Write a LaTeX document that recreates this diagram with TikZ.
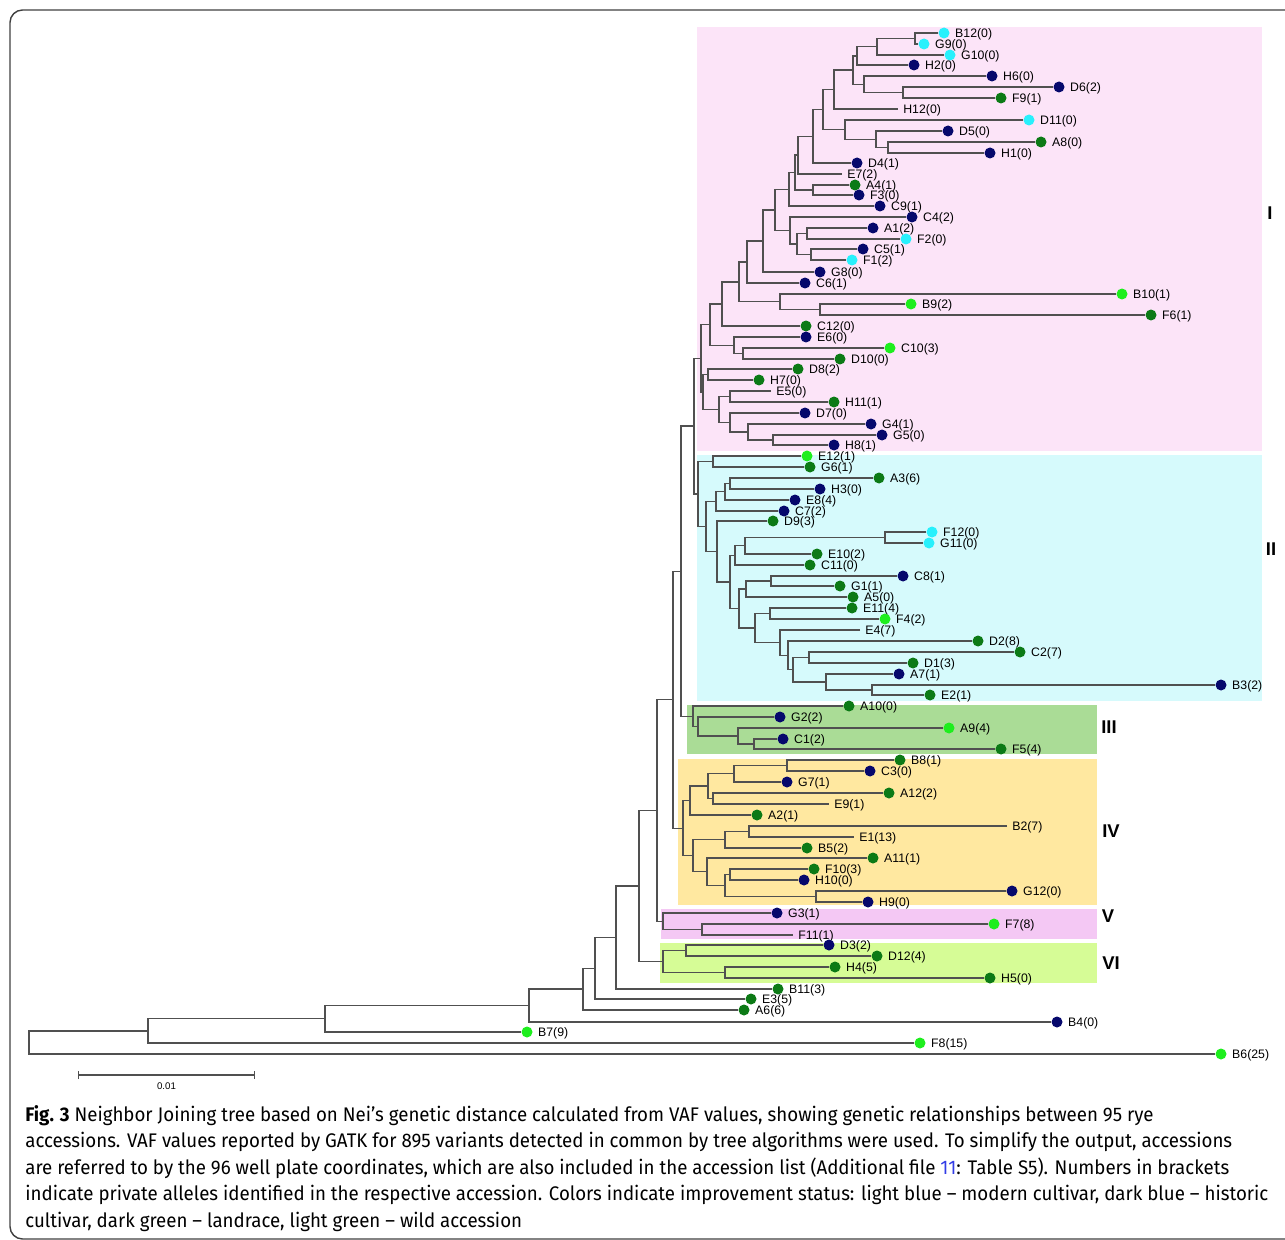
\documentclass[tikz,border=0pt]{standalone}
\usepackage{fontspec}
\setmainfont{Liberation Sans}
\newfontfamily\capfont{Fira Sans}[FakeStretch=0.95]
\usetikzlibrary{positioning, calc, arrows.meta}
% improvement status
\definecolor{mblue}{RGB}{40, 240, 252}
\definecolor{hblue}{RGB}{6, 8, 108}
\definecolor{dgreen}{RGB}{12, 122, 22}
\definecolor{wgreen}{RGB}{30, 238, 30}
% clade backgrounds
\definecolor{cladeI}{RGB}{252, 228, 248}
\definecolor{cladeII}{RGB}{214, 250, 252}
\definecolor{cladeIII}{RGB}{170, 220, 150}
\definecolor{cladeIV}{RGB}{255, 232, 160}
\definecolor{cladeV}{RGB}{244, 200, 244}
\definecolor{cladeVI}{RGB}{214, 252, 150}
\definecolor{treeGray}{RGB}{80, 80, 80}
\definecolor{linkBlue}{RGB}{50, 60, 230}
\tikzset{
    % Tree Styles
    branch/.style={draw=treeGray, line width=0.75pt},
    leafdot/.style={circle, inner sep=0pt, minimum size=0.22cm, draw=none},
    leaflab/.style={inner sep=0pt, yshift=-0.035cm, font=\fontsize{7}{8}\selectfont},
    % Labels & Frame
    cladelab/.style={inner sep=0pt, font=\bfseries\fontsize{10.5}{12}\selectfont},
    capline/.style={anchor=base west, inner sep=0pt, font=\capfont\fontsize{11.2}{13}\selectfont},
    scalebar/.style={{Bar[width=0.16cm]}-{Bar[width=0.16cm]}, draw=treeGray, line width=0.6pt},
    scalelab/.style={inner sep=0pt, font=\fontsize{5.5}{6}\selectfont},
    figframe/.style={draw=black!75, line width=0.8pt, rounded corners=0.25cm}
}
% leaf with a status dot: name, x, y, colour, label
\newcommand\tdot[5]{%
    \node[leafdot, fill=#4] (#1) at (#2,#3) {};
    \node[leaflab, right=0.1cm of #1] (l#1) {#5};}
% leaf without dot: name, x, y, label
\newcommand\ttip[4]{%
    \coordinate (#1) at (#2,#3);
    \node[leaflab, right=0.1cm of #1] (l#1) {#4};}
% internal node: name, x, upper child, lower child
\newcommand\tjoin[4]{%
    \coordinate (#1m) at ($(#3)!0.5!(#4)$);
    \coordinate (#1x) at (#2,0);
    \coordinate (#1) at (#1m -| #1x);
    \draw[branch] (#3) -| (#1) |- (#4);}

\begin{document}
\begin{tikzpicture}[x=0.02cm, y=-0.02cm]
    \useasboundingbox (0,0) rectangle (1285,1240);
    \clip (0,0) rectangle (1285,1240);

    % --- Clade Backgrounds ---
    \fill[cladeI] (697,27) rectangle (1262,451);
    \fill[cladeII] (697,455) rectangle (1262,701);
    \fill[cladeIII] (687,705) rectangle (1097,754);
    \fill[cladeIV] (678,759) rectangle (1097,905);
    \fill[cladeV] (661,909) rectangle (1097,939);
    \fill[cladeVI] (660,943) rectangle (1097,983);

    \node[cladelab] (labI) at (1270,213) {I};
    \node[cladelab] (labII) at (1271,549) {II};
    \node[cladelab] (labIII) at (1109,727) {III};
    \node[cladelab] (labIV) at (1111,831) {IV};
    \node[cladelab] (labV) at (1108,916) {V};
    \node[cladelab] (labVI) at (1111,963) {VI};

    % --- Leaves: Clade I ---
    \tdot{B12}{944}{33}{mblue}{B12(0)}
    \tdot{G9}{924}{44}{mblue}{G9(0)}
    \tdot{G10}{950}{55}{mblue}{G10(0)}
    \tdot{H2}{914}{65}{hblue}{H2(0)}
    \tdot{H6}{992}{76}{hblue}{H6(0)}
    \tdot{D6}{1059}{87}{hblue}{D6(2)}
    \tdot{F9}{1001}{98}{dgreen}{F9(1)}
    \ttip{H12}{898}{109}{H12(0)}
    \tdot{D11}{1029}{120}{mblue}{D11(0)}
    \tdot{D5}{948}{131}{hblue}{D5(0)}
    \tdot{A8}{1041}{142}{dgreen}{A8(0)}
    \tdot{H1}{990}{153}{hblue}{H1(0)}
    \tdot{D4}{857}{163}{hblue}{D4(1)}
    \ttip{E7}{842}{174}{E7(2)}
    \tdot{A4}{855}{185}{dgreen}{A4(1)}
    \tdot{F3}{859}{195}{hblue}{F3(0)}
    \tdot{C9}{880}{206}{hblue}{C9(1)}
    \tdot{C4}{912}{217}{hblue}{C4(2)}
    \tdot{A1}{873}{228}{hblue}{A1(2)}
    \tdot{F2}{906}{239}{mblue}{F2(0)}
    \tdot{C5}{863}{249}{hblue}{C5(1)}
    \tdot{F1}{852}{260}{mblue}{F1(2)}
    \tdot{G8}{820}{272}{hblue}{G8(0)}
    \tdot{C6}{805}{283}{hblue}{C6(1)}
    \tdot{B10}{1122}{294}{wgreen}{B10(1)}
    \tdot{B9}{911}{304}{wgreen}{B9(2)}
    \tdot{F6}{1151}{315}{dgreen}{F6(1)}
    \tdot{C12}{806}{326}{dgreen}{C12(0)}
    \tdot{E6}{806}{337}{hblue}{E6(0)}
    \tdot{C10}{890}{348}{wgreen}{C10(3)}
    \tdot{D10}{840}{359}{dgreen}{D10(0)}
    \tdot{D8}{798}{369}{dgreen}{D8(2)}
    \tdot{H7}{759}{380}{dgreen}{H7(0)}
    \ttip{E5}{771}{391}{E5(0)}
    \tdot{H11}{834}{402}{dgreen}{H11(1)}
    \tdot{D7}{805}{413}{hblue}{D7(0)}
    \tdot{G4}{871}{424}{hblue}{G4(1)}
    \tdot{G5}{882}{435}{hblue}{G5(0)}
    \tdot{H8}{834}{445}{hblue}{H8(1)}

    % --- Leaves: Clade II ---
    \tdot{E12}{807}{456}{wgreen}{E12(1)}
    \tdot{G6}{810}{467}{dgreen}{G6(1)}
    \tdot{A3}{879}{478}{dgreen}{A3(6)}
    \tdot{H3}{820}{489}{hblue}{H3(0)}
    \tdot{E8}{795}{500}{hblue}{E8(4)}
    \tdot{C7}{784}{511}{hblue}{C7(2)}
    \tdot{D9}{773}{521}{dgreen}{D9(3)}
    \tdot{F12}{932}{532}{mblue}{F12(0)}
    \tdot{G11}{929}{543}{mblue}{G11(0)}
    \tdot{E10}{817}{554}{dgreen}{E10(2)}
    \tdot{C11}{810}{565}{dgreen}{C11(0)}
    \tdot{C8}{903}{576}{hblue}{C8(1)}
    \tdot{G1}{840}{586}{dgreen}{G1(1)}
    \tdot{A5}{853}{597}{dgreen}{A5(0)}
    \tdot{E11}{852}{608}{dgreen}{E11(4)}
    \tdot{F4}{885}{619}{wgreen}{F4(2)}
    \ttip{E4}{860}{630}{E4(7)}
    \tdot{D2}{978}{641}{dgreen}{D2(8)}
    \tdot{C2}{1020}{652}{dgreen}{C2(7)}
    \tdot{D1}{913}{663}{dgreen}{D1(3)}
    \tdot{A7}{899}{674}{hblue}{A7(1)}
    \tdot{B3}{1221}{685}{hblue}{B3(2)}
    \tdot{E2}{930}{695}{dgreen}{E2(1)}

    % --- Leaves: Clades III to VI ---
    \tdot{A10}{849}{706}{dgreen}{A10(0)}
    \tdot{G2}{780}{717}{hblue}{G2(2)}
    \tdot{A9}{949}{728}{wgreen}{A9(4)}
    \tdot{C1}{783}{739}{hblue}{C1(2)}
    \tdot{F5}{1001}{749}{dgreen}{F5(4)}
    \tdot{B8}{900}{760}{dgreen}{B8(1)}
    \tdot{C3}{870}{771}{hblue}{C3(0)}
    \tdot{G7}{787}{782}{hblue}{G7(1)}
    \tdot{A12}{889}{793}{dgreen}{A12(2)}
    \ttip{E9}{829}{804}{E9(1)}
    \tdot{A2}{757}{815}{dgreen}{A2(1)}
    \ttip{B2}{1007}{826}{B2(7)}
    \ttip{E1}{854}{837}{E1(13)}
    \tdot{B5}{807}{848}{dgreen}{B5(2)}
    \tdot{A11}{873}{858}{dgreen}{A11(1)}
    \tdot{F10}{814}{869}{dgreen}{F10(3)}
    \tdot{H10}{804}{880}{hblue}{H10(0)}
    \tdot{G12}{1012}{891}{hblue}{G12(0)}
    \tdot{H9}{868}{902}{hblue}{H9(0)}
    \tdot{G3}{777}{913}{hblue}{G3(1)}
    \tdot{F7}{994}{924}{wgreen}{F7(8)}
    \ttip{F11}{793}{935}{F11(1)}
    \tdot{D3}{829}{945}{hblue}{D3(2)}
    \tdot{D12}{877}{956}{dgreen}{D12(4)}
    \tdot{H4}{835}{967}{dgreen}{H4(5)}
    \tdot{H5}{990}{978}{dgreen}{H5(0)}

    % --- Leaves: Outgroups ---
    \tdot{B11}{778}{989}{dgreen}{B11(3)}
    \tdot{E3}{751}{999}{dgreen}{E3(5)}
    \tdot{A6}{744}{1010}{dgreen}{A6(6)}
    \tdot{B4}{1057}{1022}{hblue}{B4(0)}
    \tdot{B7}{527}{1032}{wgreen}{B7(9)}
    \tdot{F8}{920}{1043}{wgreen}{F8(15)}
    \tdot{B6}{1221}{1054}{wgreen}{B6(25)}

    % --- Branches: Clade I ---
    \tjoin{cI1}{915}{B12}{G9}
    \tjoin{cI2}{877}{cI1}{G10}
    \tjoin{cI3}{857}{cI2}{H2}
    \tjoin{cI4}{903}{D6}{F9}
    \tjoin{cI5}{864}{H6}{cI4}
    \tjoin{cI6}{853}{cI3}{cI5}
    \tjoin{cI7}{834}{cI6}{H12}
    \tjoin{cI8}{888}{A8}{H1}
    \tjoin{cI9}{876}{D5}{cI8}
    \tjoin{cI10}{845}{D11}{cI9}
    \tjoin{cI11}{823}{cI7}{cI10}
    \tjoin{cI12}{813}{cI11}{D4}
    \tjoin{cI13}{798}{cI12}{E7}
    \tjoin{cI14}{813}{A4}{F3}
    \tjoin{cI15}{795}{cI13}{cI14}
    \tjoin{cI16}{789}{cI15}{C9}
    \tjoin{cI17}{807}{A1}{F2}
    \tjoin{cI18}{811}{C5}{F1}
    \tjoin{cI19}{797}{cI17}{cI18}
    \tjoin{cI20}{790}{C4}{cI19}
    \tjoin{cI21}{775}{cI16}{cI20}
    \tjoin{cI22}{763}{cI21}{G8}
    \tjoin{cI23}{747}{cI22}{C6}
    \tjoin{cI24}{820}{B9}{F6}
    \tjoin{cI25}{780}{B10}{cI24}
    \tjoin{cI26}{739}{cI23}{cI25}
    \tjoin{cI27}{722}{cI26}{C12}
    \tjoin{cI28}{743}{C10}{D10}
    \tjoin{cI29}{734}{E6}{cI28}
    \tjoin{cI30}{710}{cI27}{cI29}
    \tjoin{cI31}{708}{D8}{H7}
    \tjoin{cI32}{730}{E5}{H11}
    \tjoin{cI33}{773}{G5}{H8}
    \tjoin{cI34}{748}{G4}{cI33}
    \tjoin{cI35}{730}{D7}{cI34}
    \tjoin{cI36}{719}{cI32}{cI35}
    \tjoin{cI37}{703}{cI31}{cI36}
    \tjoin{cI38}{701}{cI30}{cI37}

    % --- Branches: Clade II ---
    \tjoin{cII1}{713}{E12}{G6}
    \tjoin{cII2}{730}{A3}{H3}
    \tjoin{cII3}{725}{cII2}{E8}
    \tjoin{cII4}{716}{cII3}{C7}
    \tjoin{cII5}{885}{F12}{G11}
    \tjoin{cII6}{745}{cII5}{E10}
    \tjoin{cII7}{735}{cII6}{C11}
    \tjoin{cII8}{771}{C8}{G1}
    \tjoin{cII9}{746}{cII8}{A5}
    \tjoin{cII10}{770}{E11}{F4}
    \tjoin{cII11}{872}{B3}{E2}
    \tjoin{cII12}{826}{A7}{cII11}
    \tjoin{cII13}{809}{C2}{D1}
    \tjoin{cII14}{793}{cII13}{cII12}
    \tjoin{cII15}{788}{D2}{cII14}
    \tjoin{cII16}{780}{E4}{cII15}
    \tjoin{cII17}{755}{cII10}{cII16}
    \tjoin{cII18}{739}{cII9}{cII17}
    \tjoin{cII19}{730}{cII7}{cII18}
    \tjoin{cII20}{717}{D9}{cII19}
    \tjoin{cII21}{706}{cII4}{cII20}
    \tjoin{cII22}{698}{cII1}{cII21}

    % --- Branches: Clades III to VI ---
    \tjoin{cIII1}{754}{C1}{F5}
    \tjoin{cIII2}{738}{A9}{cIII1}
    \tjoin{cIII3}{698}{G2}{cIII2}
    \tjoin{cIII4}{693}{A10}{cIII3}
    \tjoin{cIV1}{787}{B8}{C3}
    \tjoin{cIV2}{734}{cIV1}{G7}
    \tjoin{cIV3}{713}{A12}{E9}
    \tjoin{cIV4}{708}{cIV2}{cIV3}
    \tjoin{cIV5}{690}{cIV4}{A2}
    \tjoin{cIV6}{749}{B2}{E1}
    \tjoin{cIV7}{725}{cIV6}{B5}
    \tjoin{cIV8}{730}{F10}{H10}
    \tjoin{cIV9}{816}{G12}{H9}
    \tjoin{cIV10}{725}{cIV8}{cIV9}
    \tjoin{cIV11}{707}{A11}{cIV10}
    \tjoin{cIV12}{693}{cIV7}{cIV11}
    \tjoin{cIV13}{683}{cIV5}{cIV12}
    \tjoin{cV1}{702}{F7}{F11}
    \tjoin{cV2}{663}{G3}{cV1}
    \tjoin{cVI1}{686}{D3}{D12}
    \tjoin{cVI2}{725}{H4}{H5}
    \tjoin{cVI3}{663}{cVI1}{cVI2}

    % --- Backbone ---
    \tjoin{bb1}{694}{cI38}{cII22}
    \tjoin{bb2}{681}{bb1}{cIII4}
    \tjoin{bb3}{673}{bb2}{cIV13}
    \tjoin{bb4}{657}{bb3}{cV2}
    \tjoin{bb5}{639}{bb4}{cVI3}
    \tjoin{bb6}{616}{bb5}{B11}
    \tjoin{bb7}{595}{bb6}{E3}
    \tjoin{bb8}{583}{bb7}{A6}
    \tjoin{bb9}{529}{bb8}{B4}
    \tjoin{bb10}{325}{bb9}{B7}
    \tjoin{bb11}{148}{bb10}{F8}
    \tjoin{bb12}{29}{bb11}{B6}

    % --- Scale Bar ---
    \coordinate (sb0) at (78,1075);
    \coordinate (sb1) at (255,1075);
    \draw[scalebar] (sb0) -- (sb1);
    \node[scalelab] (sblab) at ($(sb0)!0.5!(sb1)+(0,11)$) {0.01};

    % --- Caption ---
    \node[capline] (cap1) at (25,1121) {\textbf{Fig. 3} Neighbor Joining tree based on Nei’s genetic distance calculated from VAF values, showing genetic relationships between 95 rye};
    \node[capline] (cap2) at (25,1147.5) {accessions. VAF values reported by GATK for 895 variants detected in common by tree algorithms were used. To simplify the output, accessions};
    \node[capline] (cap3) at (25,1174) {are referred to by the 96 well plate coordinates, which are also included in the accession list (Additional file \textcolor{linkBlue}{11}: Table S5). Numbers in brackets};
    \node[capline] (cap4) at (25,1200.5) {indicate private alleles identified in the respective accession. Colors indicate improvement status: light blue – modern cultivar, dark blue – historic};
    \node[capline] (cap5) at (25,1227) {cultivar, dark green – landrace, light green – wild accession};

    % --- Frame ---
    \draw[figframe] (10,10) rectangle (1310,1239);
\end{tikzpicture}
\end{document}
